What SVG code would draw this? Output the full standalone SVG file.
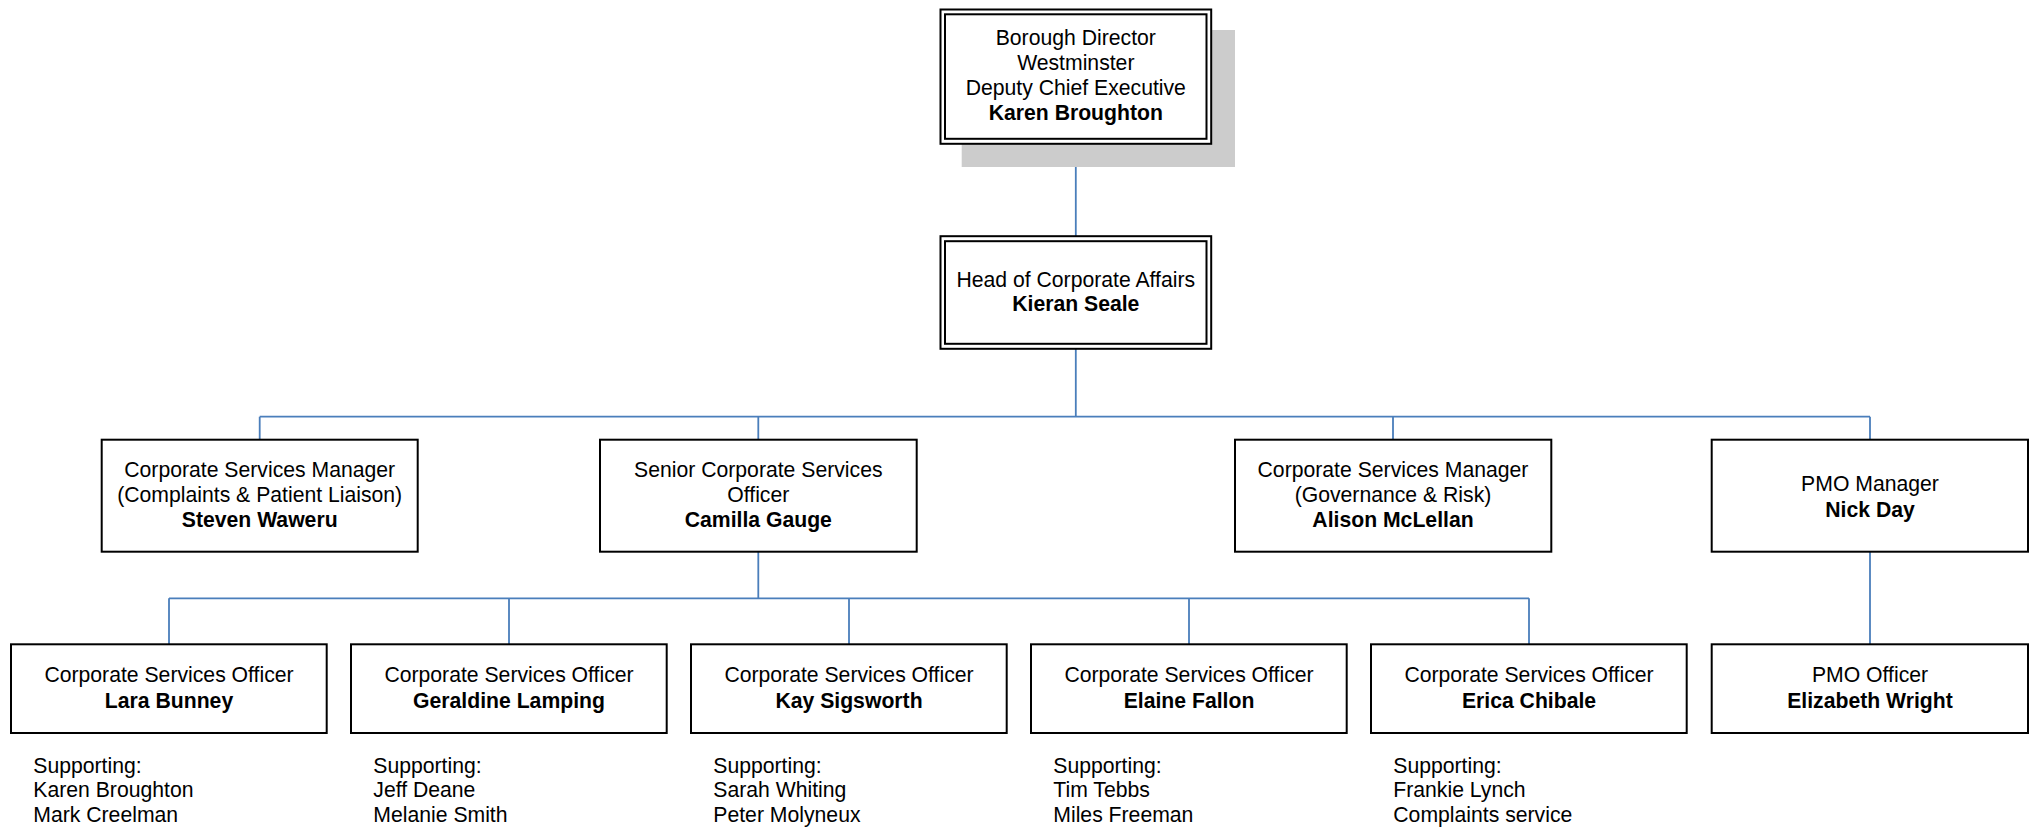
<svg xmlns="http://www.w3.org/2000/svg" width="2033" height="828" viewBox="0 0 2033 828">
<style>
.bx{fill:#ffffff;stroke:#000000;stroke-width:2}
.sh{fill:#cccccc;stroke:none}
.t{font-family:"Liberation Sans",Arial,sans-serif;font-size:21.2px;fill:#000000;text-anchor:middle}
.b{font-weight:bold}
.s{font-family:"Liberation Sans",Arial,sans-serif;font-size:21.2px;fill:#000000}
.c{fill:none;stroke:#4a7ebb;stroke-width:1.8}
</style>
<rect width="2033" height="828" fill="#ffffff"/>
<g id="connectors">
<path class="c" d="M1075.8 144 V236"/>
<path class="c" d="M1075.8 349 V416.7"/>
<path class="c" d="M259.7 416.7 H1870"/>
<path class="c" d="M259.7 416.7 V440 M758.3 416.7 V440 M1393 416.7 V440 M1870 416.7 V440"/>
<path class="c" d="M758.3 552 V598.3"/>
<path class="c" d="M169 598.3 H1529"/>
<path class="c" d="M169 598.3 V644 M509 598.3 V644 M849 598.3 V644 M1189 598.3 V644 M1529 598.3 V644"/>
<path class="c" d="M1870 552 V644"/>
</g>
<g id="borough-director">
<rect class="sh" x="961.7" y="30" width="273.3" height="137"/>
<rect class="bx" x="940.5" y="9.5" width="270.7" height="134.3"/>
<rect class="bx" x="945" y="14.3" width="261.5" height="124.5"/>
<text class="t" x="1075.8" y="45">Borough Director</text>
<text class="t" x="1075.8" y="70">Westminster</text>
<text class="t" x="1075.8" y="95">Deputy Chief Executive</text>
<text class="t b" x="1075.8" y="120">Karen Broughton</text>
</g>
<g id="head-corporate-affairs">
<rect class="bx" x="940.5" y="236.2" width="270.7" height="112.6"/>
<rect class="bx" x="945" y="241.2" width="261.5" height="102.6"/>
<text class="t" x="1075.8" y="286.7">Head of Corporate Affairs</text>
<text class="t b" x="1075.8" y="310.7">Kieran Seale</text>
</g>
<g id="csm-complaints">
<rect class="bx" x="101.7" y="439.7" width="316" height="112"/>
<text class="t" x="259.7" y="476.5">Corporate Services Manager</text>
<text class="t" x="259.7" y="501.5">(Complaints &amp; Patient Liaison)</text>
<text class="t b" x="259.7" y="527">Steven Waweru</text>
</g>
<g id="senior-cso">
<rect class="bx" x="600" y="439.7" width="316.7" height="112"/>
<text class="t" x="758.3" y="476.5">Senior Corporate Services</text>
<text class="t" x="758.3" y="501.5">Officer</text>
<text class="t b" x="758.3" y="527">Camilla Gauge</text>
</g>
<g id="csm-governance">
<rect class="bx" x="1235" y="439.7" width="316.3" height="112"/>
<text class="t" x="1393" y="476.5">Corporate Services Manager</text>
<text class="t" x="1393" y="501.5">(Governance &amp; Risk)</text>
<text class="t b" x="1393" y="527">Alison McLellan</text>
</g>
<g id="pmo-manager">
<rect class="bx" x="1711.7" y="439.7" width="316.3" height="112"/>
<text class="t" x="1870" y="490.7">PMO Manager</text>
<text class="t b" x="1870" y="516.7">Nick Day</text>
</g>
<g id="cso-lara">
<rect class="bx" x="11" y="644.3" width="315.7" height="88.7"/>
<text class="t" x="169" y="681.7">Corporate Services Officer</text>
<text class="t b" x="169" y="708.3">Lara Bunney</text>
<text class="s" x="33.3" y="772.7">Supporting:</text>
<text class="s" x="33.3" y="797">Karen Broughton</text>
<text class="s" x="33.3" y="821.5">Mark Creelman</text>
</g>
<g id="cso-geraldine">
<rect class="bx" x="351" y="644.3" width="315.7" height="88.7"/>
<text class="t" x="509" y="681.7">Corporate Services Officer</text>
<text class="t b" x="509" y="708.3">Geraldine Lamping</text>
<text class="s" x="373.3" y="772.7">Supporting:</text>
<text class="s" x="373.3" y="797">Jeff Deane</text>
<text class="s" x="373.3" y="821.5">Melanie Smith</text>
</g>
<g id="cso-kay">
<rect class="bx" x="691" y="644.3" width="315.7" height="88.7"/>
<text class="t" x="849" y="681.7">Corporate Services Officer</text>
<text class="t b" x="849" y="708.3">Kay Sigsworth</text>
<text class="s" x="713.3" y="772.7">Supporting:</text>
<text class="s" x="713.3" y="797">Sarah Whiting</text>
<text class="s" x="713.3" y="821.5">Peter Molyneux</text>
</g>
<g id="cso-elaine">
<rect class="bx" x="1031" y="644.3" width="315.7" height="88.7"/>
<text class="t" x="1189" y="681.7">Corporate Services Officer</text>
<text class="t b" x="1189" y="708.3">Elaine Fallon</text>
<text class="s" x="1053.3" y="772.7">Supporting:</text>
<text class="s" x="1053.3" y="797">Tim Tebbs</text>
<text class="s" x="1053.3" y="821.5">Miles Freeman</text>
</g>
<g id="cso-erica">
<rect class="bx" x="1371" y="644.3" width="315.7" height="88.7"/>
<text class="t" x="1529" y="681.7">Corporate Services Officer</text>
<text class="t b" x="1529" y="708.3">Erica Chibale</text>
<text class="s" x="1393.3" y="772.7">Supporting:</text>
<text class="s" x="1393.3" y="797">Frankie Lynch</text>
<text class="s" x="1393.3" y="821.5">Complaints service</text>
</g>
<g id="pmo-officer">
<rect class="bx" x="1711.7" y="644.3" width="316.3" height="88.7"/>
<text class="t" x="1870" y="681.7">PMO Officer</text>
<text class="t b" x="1870" y="708.3">Elizabeth Wright</text>
</g>
</svg>
